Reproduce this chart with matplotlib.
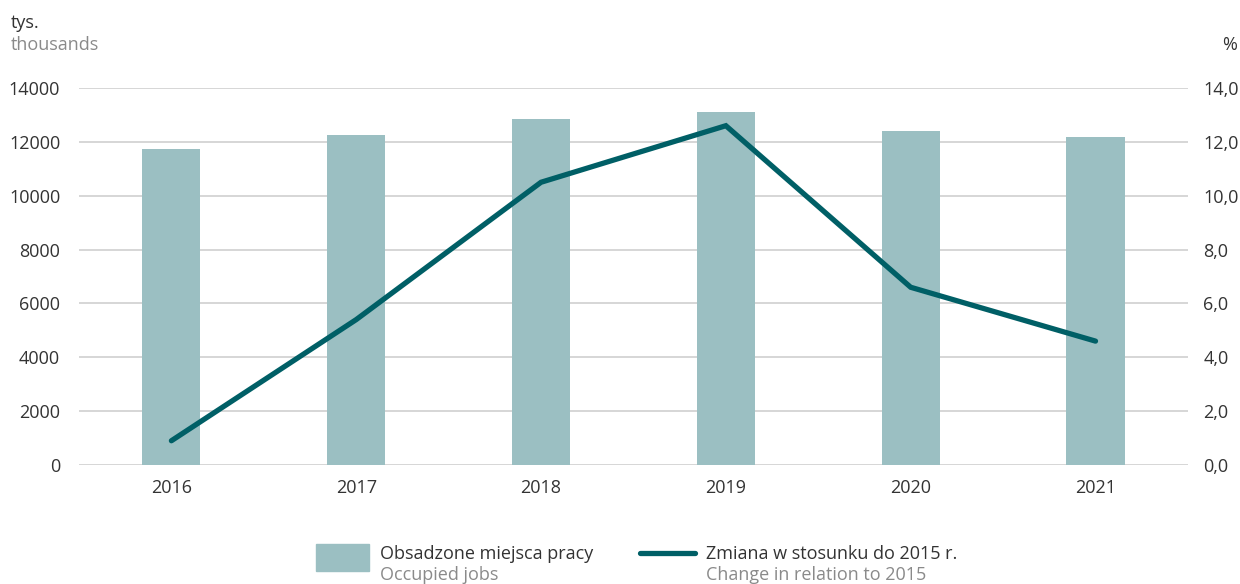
import matplotlib.pyplot as plt
from matplotlib.patches import Rectangle
from matplotlib.lines import Line2D

years = ['2016', '2017', '2018', '2019', '2020', '2021']
occupied_jobs = [11735, 12255, 12850, 13110, 12400, 12180]
change_vs_2015 = [0.9, 5.4, 10.5, 12.6, 6.6, 4.6]
left_ticks = [0, 2000, 4000, 6000, 8000, 10000, 12000, 14000]
right_ticks = [0.0, 2.0, 4.0, 6.0, 8.0, 10.0, 12.0, 14.0]

BAR = '#9bbfc2'
LINE = '#005f66'
DARK = '#333333'
GREY = '#8a8a8a'
FS = 13

plt.rcParams['font.family'] = ['Open Sans', 'DejaVu Sans']

fig = plt.figure(figsize=(12.4, 5.84), dpi=100)
ax = fig.add_axes([0.0637, 0.2038, 0.8943, 0.6455])
x = list(range(len(years)))

ax.bar(x, occupied_jobs, width=0.314, color=BAR, zorder=2)
ax.set_xlim(-0.5, len(years) - 0.5)
ax.set_ylim(0, 14000)
ax.set_yticks(left_ticks)
ax.set_yticklabels([str(v) for v in left_ticks])
ax.set_xticks(x)
ax.set_xticklabels(years)
ax.grid(axis='y', color='#cccccc', linewidth=1.1, zorder=0)
ax.set_axisbelow(True)
for s in ax.spines.values():
    s.set_visible(False)
ax.tick_params(axis='both', length=0, labelsize=FS, colors=DARK)
ax.tick_params(axis='y', pad=13.5)
ax.tick_params(axis='x', pad=10)

ax2 = ax.twinx()
ax2.plot(x, change_vs_2015, color=LINE, linewidth=3.8, solid_capstyle='round',
         solid_joinstyle='miter', zorder=3)
ax2.set_ylim(0, 14)
ax2.set_yticks(right_ticks)
ax2.set_yticklabels([f'{v:.1f}'.replace('.', ',') for v in right_ticks])
for s in ax2.spines.values():
    s.set_visible(False)
ax2.tick_params(axis='y', length=0, labelsize=FS, colors=DARK, pad=11)

# axis unit labels
fig.text(11 / 1240, 1 - 23 / 584, 'tys.', fontsize=FS, color=DARK, va='center')
fig.text(11 / 1240, 1 - 45 / 584, 'thousands', fontsize=FS, color=GREY, va='center')
fig.text(1237 / 1240, 1 - 45 / 584, '%', fontsize=FS, color=DARK, va='center', ha='right')

# legend
fig.patches.append(Rectangle((316 / 1240, 1 - 571 / 584), 53 / 1240, 27 / 584,
                             transform=fig.transFigure, color=BAR))
fig.text(380 / 1240, 1 - 554 / 584, 'Obsadzone miejsca pracy', fontsize=FS, color=DARK, va='center')
fig.text(380 / 1240, 1 - 575 / 584, 'Occupied jobs', fontsize=FS, color=GREY, va='center')
fig.lines.append(Line2D([640 / 1240, 695 / 1240], [1 - 553 / 584, 1 - 553 / 584],
                        transform=fig.transFigure, color=LINE, linewidth=3.8,
                        solid_capstyle='round'))
fig.text(706 / 1240, 1 - 554 / 584, 'Zmiana w stosunku do 2015 r.', fontsize=FS, color=DARK, va='center')
fig.text(706 / 1240, 1 - 575 / 584, 'Change in relation to 2015', fontsize=FS, color=GREY, va='center')

fig.savefig('out.png', dpi=100)
